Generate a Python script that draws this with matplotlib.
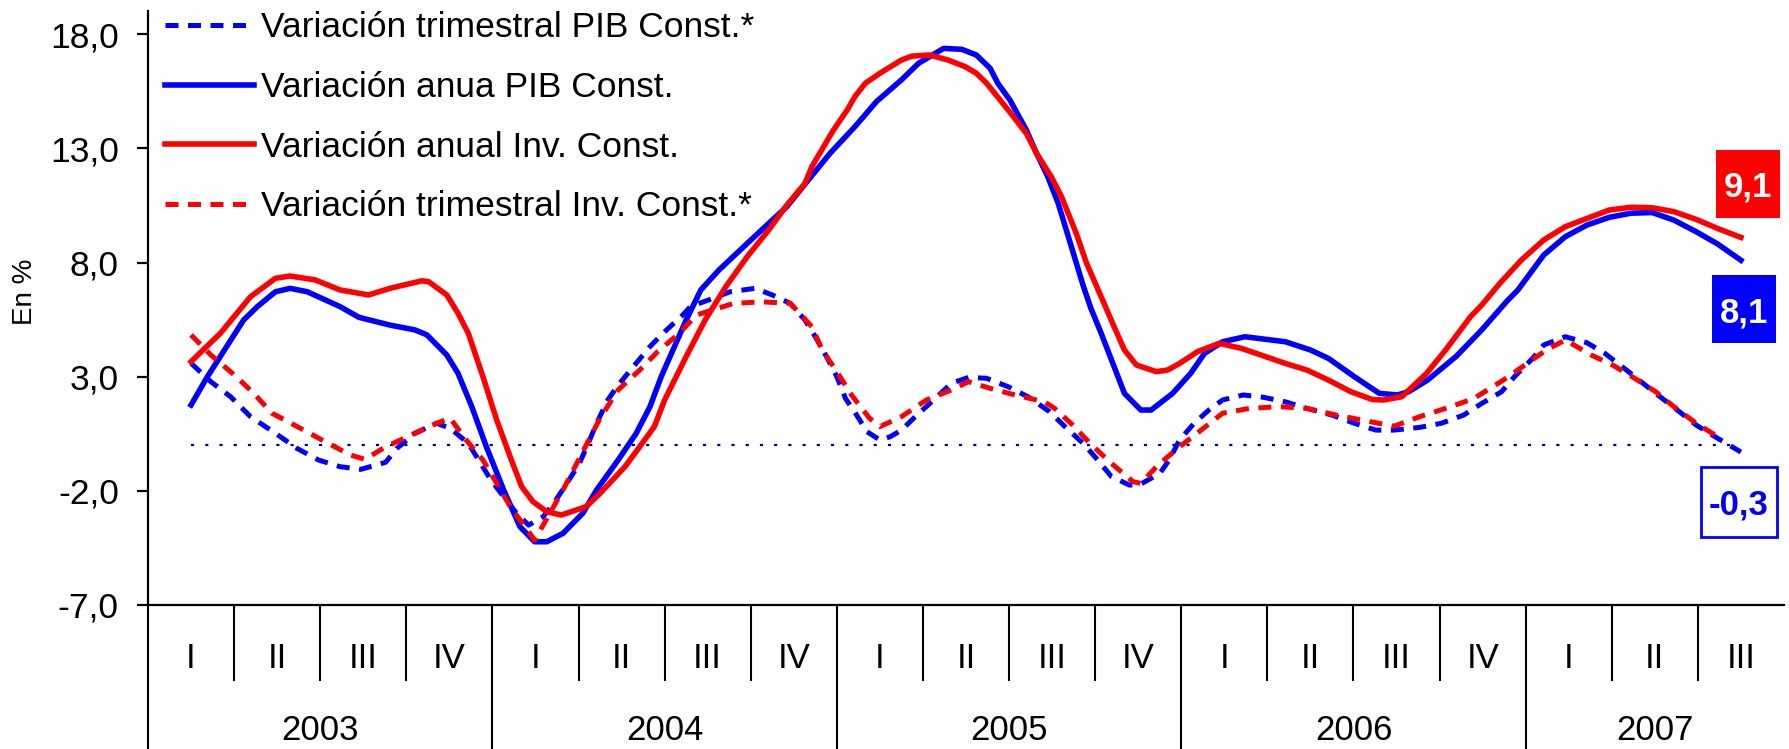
import matplotlib
matplotlib.use("Agg")
import matplotlib.pyplot as plt
from matplotlib.patches import Rectangle

plt.rcParams['font.family'] = ['Liberation Sans', 'DejaVu Sans']

# ---------------- data (quarter index: 0 = 2003 I ... 18 = 2007 III) ----------------
years = ['2003', '2004', '2005', '2006', '2007']
quarters_per_year = [4, 4, 4, 4, 3]
quarter_labels = ['I', 'II', 'III', 'IV'] * 4 + ['I', 'II', 'III']

y_ticks = [-7, -2, 3, 8, 13, 18]
y_tick_labels = ['-7,0', '-2,0', '3,0', '8,0', '13,0', '18,0']

# Variación trimestral PIB Const.*
pib_trim_t = [0.0, 0.23, 0.46, 0.69, 0.98, 1.23, 1.48, 1.73, 1.97, 2.26, 2.39, 2.60, 2.85, 3.01,
              3.22, 3.34, 3.47, 3.63, 3.78, 3.92, 4.09, 4.21, 4.34, 4.51, 4.63, 4.71, 4.84, 4.96,
              5.17, 5.33, 5.50, 5.71, 5.80, 6.01, 6.26, 6.55, 6.75, 6.96, 7.13, 7.25, 7.38, 7.50,
              7.60, 7.73, 7.85, 8.0, 8.12, 8.25, 8.43, 8.58, 8.83, 9.03, 9.24, 9.49, 9.72, 9.97,
              10.15, 10.36, 10.53, 10.69, 10.90, 11.03, 11.25, 11.36, 11.48, 11.65, 11.82, 11.98,
              12.22, 12.45, 12.71, 12.96, 13.25, 13.51, 13.76, 13.97, 14.27, 14.52, 14.78, 14.99,
              15.22, 15.37, 15.58, 15.71, 15.96, 16.21, 16.42, 16.67, 17.01, 17.26, 17.48, 17.73, 18.0]
pib_trim = [3.59, 2.78, 2.12, 1.25, 0.52, -0.14, -0.65, -0.94, -1.06, -0.75, -0.14, 0.52, 0.96, 0.74,
            0.08, -0.65, -1.45, -2.26, -2.98, -3.50, -3.13, -2.55, -1.82, -0.80, 0.23, 0.96, 1.98, 2.63,
            3.59, 4.32, 4.97, 5.70, 6.07, 6.36, 6.72, 6.87, 6.58, 6.21, 5.48, 4.75, 3.88, 3.00,
            2.05, 1.32, 0.59, 0.23, 0.37, 0.66, 1.32, 1.83, 2.71, 2.97, 2.93, 2.56, 2.12, 1.47,
            0.81, 0.08, -0.65, -1.38, -1.75, -1.70, -1.24, -0.65, 0.23, 0.96, 1.54, 1.98,
            2.20, 2.10, 1.90, 1.61, 1.32, 0.96, 0.66, 0.66, 0.78, 0.96, 1.32, 1.83,
            2.34, 3.00, 3.80, 4.39, 4.75, 4.49, 4.02, 3.29, 2.27, 1.54, 0.88, 0.30, -0.3]

# Variación anua PIB Const.
pib_anual_t = [0.0, 0.19, 0.61, 0.77, 0.98, 1.15, 1.35, 1.73, 1.95, 2.31, 2.60, 2.74, 2.97, 3.10,
               3.26, 3.43, 3.63, 3.82, 3.99, 4.13, 4.32, 4.55, 4.71, 4.96, 5.17, 5.33, 5.46, 5.75,
               5.92, 6.13, 6.46, 6.75, 6.92, 7.17, 7.42, 7.71, 7.96, 8.25, 8.45, 8.74, 8.95, 9.12,
               9.28, 9.37, 9.51, 9.70, 9.82, 9.95, 10.07, 10.20, 10.36, 10.45, 10.57, 10.72, 10.84,
               11.03, 11.15, 11.40, 11.61, 11.77, 11.98, 12.24, 12.71, 13.0, 13.21, 13.51, 13.80,
               14.01, 14.14, 14.36, 14.69, 14.99, 15.28, 15.41, 15.71, 15.96, 16.21, 16.47, 16.72,
               16.97, 17.22, 17.48, 17.73, 18.0]
pib_anual = [1.76, 3.00, 5.48, 6.07, 6.72, 6.87, 6.72, 6.07, 5.60, 5.26, 5.05, 4.83, 3.95, 3.15,
             1.69, -0.07, -1.96, -3.57, -4.23, -4.23, -3.86, -2.98, -1.96, -0.65, 0.52, 1.69, 3.00, 5.48,
             6.80, 7.67, 8.84, 9.86, 10.45, 11.62, 12.78, 13.95, 15.05, 16.00, 16.73, 17.38, 17.34, 17.09,
             16.51, 15.85, 15.12, 13.81, 12.78, 11.76, 10.60, 8.99, 7.00, 6.00, 4.90, 3.44, 2.27,
             1.54, 1.54, 2.27, 3.15, 4.02, 4.53, 4.75, 4.53, 4.17, 3.80, 3.00, 2.27,
             2.20, 2.34, 2.85, 3.88, 5.05, 6.30, 6.80, 8.33, 9.13, 9.64, 9.98, 10.16,
             10.19, 9.86, 9.35, 8.81, 8.1]

# Variación anual Inv. Const.
inv_anual_t = [0.0, 0.34, 0.69, 0.98, 1.15, 1.44, 1.73, 2.06, 2.31, 2.68, 2.76, 2.97, 3.10, 3.22,
               3.39, 3.55, 3.72, 3.84, 3.97, 4.13, 4.30, 4.59, 4.75, 5.04, 5.21, 5.38, 5.50, 5.75,
               5.97, 6.21, 6.46, 6.71, 6.92, 7.13, 7.21, 7.46, 7.62, 7.71, 7.83, 8.0, 8.25, 8.37,
               8.58, 8.79, 8.99, 9.12, 9.24, 9.49, 9.70, 9.82, 9.99, 10.11, 10.28, 10.40, 10.57,
               10.72, 10.84, 10.98, 11.21, 11.34, 11.48, 11.69, 11.94, 12.20, 12.71, 12.96, 13.21,
               13.47, 13.72, 13.85, 14.06, 14.35, 14.57, 14.86, 14.99, 15.20, 15.45, 15.71, 15.96,
               16.21, 16.47, 16.72, 16.97, 17.22, 17.48, 17.73, 18.0]
inv_anual = [3.66, 4.90, 6.50, 7.31, 7.41, 7.24, 6.80, 6.58, 6.87, 7.20, 7.16, 6.58, 5.78, 4.90,
             3.00, 1.10, -0.65, -1.82, -2.47, -2.91, -3.06, -2.69, -2.11, -0.94, -0.07, 0.81, 1.98, 3.88,
             5.48, 6.94, 8.26, 9.43, 10.52, 11.47, 12.20, 13.80, 14.68, 15.27, 15.85, 16.29, 16.87, 17.04,
             17.09, 16.87, 16.58, 16.29, 15.85, 14.68, 13.66, 12.78, 11.76, 10.88, 9.28, 7.97, 6.50,
             5.19, 4.17, 3.51, 3.22, 3.29, 3.58, 4.10, 4.46, 4.24, 3.58, 3.29, 2.85,
             2.34, 2.00, 1.98, 2.12, 3.15, 4.17, 5.63, 6.14, 7.09, 8.11, 8.99, 9.57,
             9.93, 10.30, 10.42, 10.40, 10.23, 9.89, 9.49, 9.1]

# Variación trimestral Inv. Const.*
inv_trim_t = [0.0, 0.23, 0.48, 0.71, 0.94, 1.27, 1.56, 1.85, 2.02, 2.26, 2.56, 2.85, 3.01, 3.18,
              3.39, 3.55, 3.72, 3.88, 3.99, 4.32, 4.59, 4.75, 4.96, 5.21, 5.42, 5.67, 5.87, 6.30,
              6.63, 6.96, 7.21, 7.33, 7.50, 7.67, 7.88, 8.0, 8.25, 8.54, 8.83, 9.03, 9.28, 9.57,
              9.91, 10.03, 10.24, 10.44, 10.69, 10.94, 11.03, 11.23, 11.48, 11.73, 11.98, 12.29,
              12.63, 12.96, 13.30, 13.64, 13.97, 14.27, 14.61, 14.90, 15.24, 15.49, 15.74, 15.96,
              16.26, 16.51, 16.80, 17.01, 17.22, 17.48, 17.76]
inv_trim = [4.83, 3.95, 3.15, 2.34, 1.40, 0.74, 0.15, -0.43, -0.62, -0.07, 0.45, 0.96, 1.18, 0.30,
            -0.65, -1.67, -2.77, -3.57, -4.16, -1.96, 0.01, 1.18, 2.42, 3.29, 4.10, 4.90, 5.70, 6.21,
            6.28, 6.21, 5.19, 4.17, 3.22, 2.20, 1.18, 0.81, 1.25, 1.98, 2.42, 2.78, 2.49, 2.20,
            1.90, 1.61, 0.88, 0.08, -0.80, -1.60, -1.67, -0.87, -0.07, 0.66, 1.40, 1.61,
            1.69, 1.61, 1.32, 1.07, 0.83, 1.25, 1.66, 2.05, 2.85, 3.51, 4.17, 4.61,
            3.95, 3.51, 2.85, 2.34, 1.69, 0.96, 0.30]

series_names = ['Variación trimestral PIB Const.*', 'Variación anua PIB Const.',
                'Variación anual Inv. Const.', 'Variación trimestral Inv. Const.*']

# ---------------- figure ----------------
W, H = 1790, 749
fig = plt.figure(figsize=(W / 100, H / 100), dpi=100)
ax_left, ax_right, ax_bottom, ax_top = 148, 1784, 605, 11.4
ax_w = ax_right - ax_left
ax_h = ax_bottom - ax_top
ax = fig.add_axes([ax_left / W, 1 - ax_bottom / H, ax_w / W, ax_h / H])

n_q = len(quarter_labels)
ax.set_xlim(-0.5, n_q - 0.5)
ax.set_ylim(-7, 19)

BLUE = '#0000FF'
RED = '#FF0000'
NAVY = '#000080'

# zero reference line
ax.hlines(0, pib_trim_t[0], pib_trim_t[-1], colors=NAVY, linewidth=1.6,
          linestyles=(0, (1.4, 5.0)), zorder=1)

l1, = ax.plot(pib_trim_t, pib_trim, color=BLUE, lw=3.6, dashes=(2.6, 1.9), label=series_names[0], zorder=2)
l2, = ax.plot(pib_anual_t, pib_anual, color=BLUE, lw=4.0, label=series_names[1], zorder=3,
              solid_joinstyle='round')
l3, = ax.plot(inv_anual_t, inv_anual, color=RED, lw=4.0, label=series_names[2], zorder=4,
              solid_joinstyle='round')
l4, = ax.plot(inv_trim_t, inv_trim, color=RED, lw=3.6, dashes=(2.6, 1.9), label=series_names[3], zorder=5)

# axes styling
for s in ['top', 'right']:
    ax.spines[s].set_visible(False)
ax.spines['left'].set_linewidth(1.6)
ax.spines['bottom'].set_linewidth(1.6)
ax.set_yticks(y_ticks)
ax.set_yticklabels(y_tick_labels, fontsize=25.5)
ax.tick_params(axis='y', length=8, width=1.6, pad=13, direction='out')
ax.set_xticks([])

# category axis (two levels)
q_div_bottom = -(680 - ax_bottom) / ax_h
y_div_bottom = -(H + 5 - ax_bottom) / ax_h
q_label_y = -(658 - ax_bottom) / ax_h
y_label_y = -(730 - ax_bottom) / ax_h
trans = ax.get_xaxis_transform()

for k, lab in enumerate(quarter_labels):
    ax.text(k, q_label_y, lab, transform=trans, ha='center', va='center', fontsize=25, clip_on=False)

start = 0
year_bounds = [start]
for yr, nq in zip(years, quarters_per_year):
    center = start + (nq - 1) / 2
    ax.text(center, y_label_y, yr, transform=trans, ha='center', va='center', fontsize=25, clip_on=False)
    start += nq
    year_bounds.append(start)

for k in range(n_q):
    x = k - 0.5
    bottom = y_div_bottom if k in year_bounds else q_div_bottom
    ax.plot([x, x], [0, bottom], transform=trans, color='black', lw=1.5, clip_on=False)

# y label
fig.text(25 / W, 1 - 292 / H, 'En %', rotation=90, ha='center', va='center', fontsize=20)

# legend
leg = ax.legend(handles=[l1, l2, l3, l4], loc='upper left',
                bbox_to_anchor=((165 - ax_left) / ax_w, 1.0),
                frameon=False, fontsize=25.5, handlelength=2.5, handletextpad=0.2,
                labelspacing=0.75, borderpad=0, borderaxespad=0)


# end-value labels
def fmt(v):
    return f'{v:.1f}'.replace('.', ',')


def value_box(cx, cy, w, h, text, fc, ec, tc, lw):
    x0 = (cx - w / 2 - ax_left) / ax_w
    y0 = (ax_bottom - (cy + h / 2)) / ax_h
    ax.add_patch(Rectangle((x0, y0), w / ax_w, h / ax_h, transform=ax.transAxes,
                           facecolor=fc, edgecolor=ec, linewidth=lw, clip_on=False, zorder=10))
    ax.text((cx - ax_left) / ax_w, (ax_bottom - cy) / ax_h, text, transform=ax.transAxes,
            ha='center', va='center_baseline', fontsize=25, fontweight='bold', color=tc,
            zorder=11, clip_on=False)


value_box(1748, 184, 64, 68, fmt(inv_anual[-1]), RED, RED, 'white', 0.0)
value_box(1744, 309, 64, 68, fmt(pib_anual[-1]), BLUE, BLUE, 'white', 0.0)
value_box(1739, 502, 76, 70, fmt(pib_trim[-1]), 'white', BLUE, BLUE, 2.0)

fig.savefig('out.png', dpi=100)
